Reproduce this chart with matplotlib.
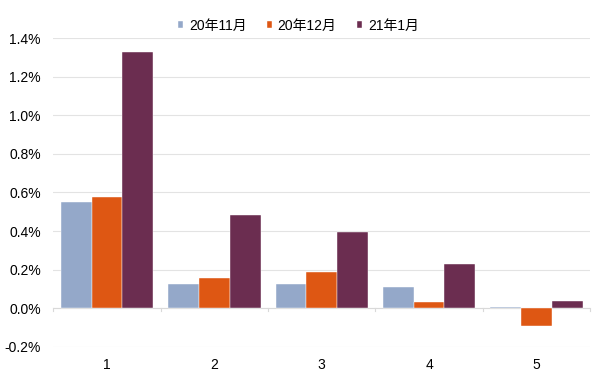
import matplotlib
matplotlib.use("Agg")
import matplotlib.pyplot as plt
import numpy as np
from matplotlib.ticker import FuncFormatter

plt.rcParams['font.family'] = ['Liberation Sans', 'Noto Sans CJK SC', 'DejaVu Sans']

categories = ['1', '2', '3', '4', '5']
series_names = ['20年11月', '20年12月', '21年1月']
nov20 = [0.552, 0.124, 0.127, 0.111, 0.009]
dec20 = [0.578, 0.158, 0.190, 0.031, -0.092]
jan21 = [1.327, 0.482, 0.393, 0.231, 0.038]
colors = ['#94A8C9', '#DE5713', '#6B2D50']
yticks = [-0.2, 0.0, 0.2, 0.4, 0.6, 0.8, 1.0, 1.2, 1.4]

fig = plt.figure(figsize=(6.0, 3.77), dpi=100)
ax = fig.add_axes([0.089, 0.080, 0.8945, 0.819])

x = np.arange(len(categories))
w = 0.287
for i, (vals, c, name) in enumerate(zip([nov20, dec20, jan21], colors, series_names)):
    ax.bar(x + (i - 1) * w, vals, width=w, color=c, edgecolor='white', linewidth=0.3,
           label=name, zorder=3)

ax.set_xlim(-0.5, len(categories) - 0.5)
ax.set_ylim(-0.2, 1.4)
ax.set_yticks(yticks)
ax.yaxis.set_major_formatter(FuncFormatter(lambda v, p: f"{v:.1f}%"))
ax.grid(axis='y', color='#E3E3E3', linewidth=0.8, zorder=0)
ax.set_axisbelow(True)
for s in ['top', 'right', 'left', 'bottom']:
    ax.spines[s].set_visible(False)
ax.tick_params(axis='y', length=0, labelsize=10, pad=9, colors='#000000')
ax.axhline(0, color='#D9D9D9', linewidth=0.8, zorder=1)
# category boundary ticks along zero line
for b in np.arange(-0.5, len(categories), 1.0):
    ax.plot([b, b], [0, -0.012], color='#D9D9D9', linewidth=0.8, zorder=1, clip_on=False)
ax.set_xticks(x)
ax.set_xticklabels(categories)
ax.tick_params(axis='x', length=0, labelsize=10, pad=8)

handles, labels = ax.get_legend_handles_labels()
fig.legend(handles, labels, loc='center', bbox_to_anchor=(0.497, 0.932), ncol=3, frameon=False,
           fontsize=10, handlelength=0.4, handleheight=0.4, handletextpad=0.4,
           columnspacing=1.45)

fig.savefig('out.png', dpi=100)
